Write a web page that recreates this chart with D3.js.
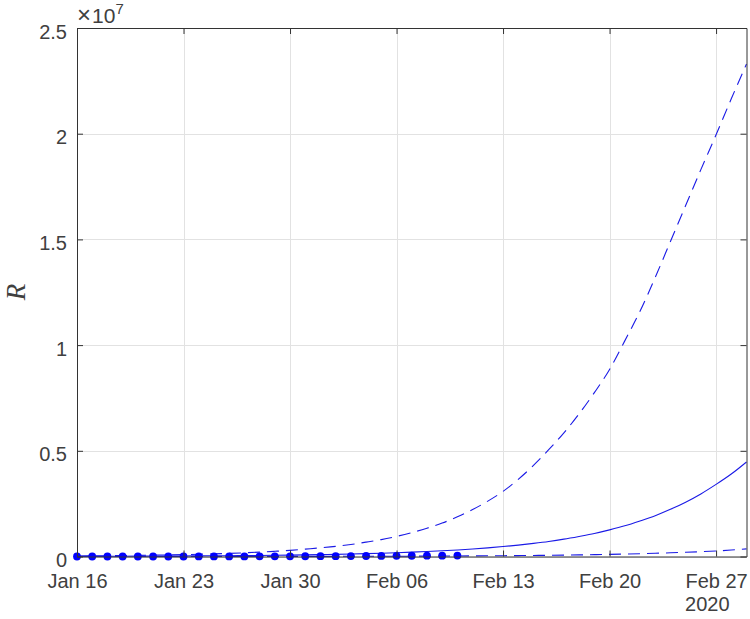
<!DOCTYPE html>
<html>
<head>
<meta charset="utf-8">
<script src="https://cdn.jsdelivr.net/npm/d3@7"></script>
<style>
  html, body { margin: 0; padding: 0; background: #fff; }
  svg { display: block; }
  text { font-family: "Liberation Sans", Arial, Helvetica, sans-serif; fill: #404040; }
</style>
</head>
<body>
<svg id="chart" width="750" height="619"></svg>
<script>
// ---- data (values in millions for model curves) ----
const startDay = "2020-01-16";
const endDay = "2020-02-29";
const tickDays = ["2020-01-16","2020-01-23","2020-01-30","2020-02-06","2020-02-13","2020-02-20","2020-02-27"];
const yTicks = [0, 5, 10, 15, 20, 25];           // millions
const yTickLabels = ["0","0.5","1","1.5","2","2.5"];
const yearLabel = "2020";

const upper = [0.027,0.032,0.038,0.045,0.053,0.063,0.075,0.089,0.105,0.125,0.148,0.175,0.205,0.245,0.29,0.35,0.41,0.48,0.57,0.68,0.80,0.95,
  1.13,1.34,1.58,1.88,2.22,2.62,3.08,3.65,4.31,5.05,5.85,6.75,7.75,8.85,10.2,11.6,13.2,14.9,16.6,18.3,19.95,21.65,23.3];
const middle = [0.009,0.011,0.012,0.014,0.016,0.019,0.022,0.025,0.029,0.033,0.038,0.044,0.05,0.058,0.067,0.077,0.089,0.102,0.117,0.135,
  0.155,0.178,0.205,0.235,0.27,0.31,0.355,0.41,0.47,0.54,0.62,0.71,0.82,0.95,1.09,1.26,1.45,1.68,1.93,2.23,2.57,2.96,3.41,3.9,4.47];
const lower = [0.0008,0.0009,0.001,0.0011,0.0013,0.0015,0.0017,0.002,0.0023,0.0026,0.003,0.0035,0.004,0.0046,0.005,0.006,0.007,0.008,0.009,0.011,
  0.012,0.014,0.016,0.019,0.022,0.025,0.029,0.033,0.038,0.043,0.05,0.057,0.066,0.076,0.087,0.10,0.115,0.132,0.152,0.175,0.20,0.228,0.26,0.305,0.36];
const observed = [45,62,121,198,291,440,571,830,1287,1975,2744,4515,5974,7711,9692,11791,14380,17205,20438,24324,28018,31161,34546,37198,40171,42638];

// ---- layout ----
const svg = d3.select("#chart");
const L = 77, R = 746.5, T = 28, B = 556.5;
const parse = d3.timeParse("%Y-%m-%d");
const t0 = parse(startDay), t1 = parse(endDay);
const x = d3.scaleTime().domain([t0, t1]).range([L, R]);
const y = d3.scaleLinear().domain([0, 25]).range([B, T]);
const dayAt = i => d3.timeDay.offset(t0, i);

// gridlines
const grid = svg.append("g");
grid.selectAll(".vg").data(tickDays.map(parse)).join("line")
  .attr("x1", d => Math.round(x(d)) + 0.5).attr("x2", d => Math.round(x(d)) + 0.5)
  .attr("y1", T).attr("y2", B).attr("stroke", "#e2e2e2").attr("stroke-width", 1);
grid.selectAll(".hg").data(yTicks).join("line")
  .attr("y1", d => Math.round(y(d)) + 0.5).attr("y2", d => Math.round(y(d)) + 0.5)
  .attr("x1", L).attr("x2", R).attr("stroke", "#e2e2e2").attr("stroke-width", 1);

// curves
const line = d3.line().x((d, i) => x(dayAt(i))).y(d => y(d)).curve(d3.curveMonotoneX);
const plot = svg.append("g");
plot.append("path").datum(lower).attr("d", line).attr("fill", "none")
  .attr("stroke", "#1a1ae6").attr("stroke-width", 1.1).attr("stroke-dasharray", "12,7");
plot.append("path").datum(upper).attr("d", line).attr("fill", "none")
  .attr("stroke", "#1a1ae6").attr("stroke-width", 1.1).attr("stroke-dasharray", "12,7");
plot.append("path").datum(middle).attr("d", line).attr("fill", "none")
  .attr("stroke", "#1a1ae6").attr("stroke-width", 1.1);

// observed dots
plot.selectAll("circle").data(observed).join("circle")
  .attr("cx", (d, i) => x(dayAt(i))).attr("cy", d => y(d / 1e6))
  .attr("r", 3.9).attr("fill", "#0000ff");

// axes
const fmt = d3.timeFormat("%b %d");
const axColor = "#333333";
const xb = svg.append("g").attr("transform", `translate(0,${B})`)
  .call(d3.axisBottom(x).tickValues(tickDays.map(parse)).tickFormat(fmt).tickSizeInner(-6).tickSizeOuter(0).tickPadding(17));
const xt = svg.append("g").attr("transform", `translate(0,${T})`)
  .call(d3.axisTop(x).tickValues(tickDays.map(parse)).tickFormat("").tickSizeInner(-6).tickSizeOuter(0));
const yl = svg.append("g").attr("transform", `translate(${L},0)`)
  .call(d3.axisLeft(y).tickValues(yTicks).tickFormat((d, i) => yTickLabels[i]).tickSizeInner(-6).tickSizeOuter(0).tickPadding(10));
const yr = svg.append("g").attr("transform", `translate(${R},0)`)
  .call(d3.axisRight(y).tickValues(yTicks).tickFormat("").tickSizeInner(-6).tickSizeOuter(0));
[xb, xt, yl, yr].forEach(g => {
  g.selectAll("path.domain").attr("stroke", axColor).attr("stroke-width", 1);
  g.selectAll(".tick line").attr("stroke", axColor);
  g.selectAll("text").attr("fill", "#404040").style("font-size", "20px")
    .style("font-family", '"Liberation Sans", Arial, Helvetica, sans-serif');
});
yl.selectAll("text").attr("dy", "0.5em");

// year label under last tick
const lastTick = parse(tickDays[tickDays.length - 1]);
svg.append("text").attr("x", x(lastTick) - 31).attr("y", 611)
  .style("font-size", "20px").attr("text-anchor", "start").text(yearLabel);

// exponent label
const ex = svg.append("text").attr("x", 77).attr("y", 23).style("font-size", "21px");
ex.append("tspan").style("font-size", "24px").text("\u00d7");
ex.append("tspan").attr("dx", 1).text("10");
ex.append("tspan").attr("dy", -9).style("font-size", "15px").text("7");

// y label
svg.append("text")
  .attr("transform", "translate(25,292) rotate(-90)")
  .attr("text-anchor", "middle")
  .style("font-family", '"Liberation Serif", "Times New Roman", serif')
  .style("font-style", "italic").style("font-size", "27px").text("R");
</script>
</body>
</html>
